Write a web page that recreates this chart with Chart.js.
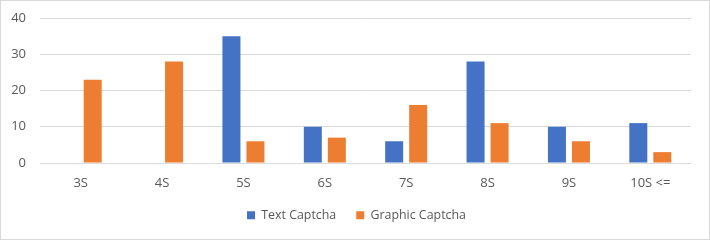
<!DOCTYPE html>
<html><head><meta charset="utf-8">
<script src="https://cdn.jsdelivr.net/npm/chart.js@4/dist/chart.umd.min.js"></script>
<style>html,body{margin:0;padding:0;background:#fff}#w{width:710px;height:240px;position:relative}</style>
</head><body><div id="w"><canvas id="c" width="710" height="240"></canvas></div>
<script>
const categories = ["3S","4S","5S","6S","7S","8S","9S","10S <="];
const textCaptcha = [0,0,35,10,6,28,10,11];
const graphicCaptcha = [23,28,6,7,16,11,6,3];
const yTicks = [0,10,20,30,40];

const FONT = "'Open Sans', sans-serif";
const border = {id:'border',
  afterLayout(ch){ if(ch.legend){ ch.legend.left += 11; ch.legend.right += 11; } },
  afterDraw(ch){const c=ch.ctx;c.save();c.strokeStyle='#d9d9d9';c.lineWidth=1;c.strokeRect(0.5,0.5,709,239);c.restore();}};

new Chart(document.getElementById('c'), {
  type:'bar',
  data:{labels:categories, datasets:[
    {label:'Text Captcha', data:textCaptcha, backgroundColor:'#4472C4', categoryPercentage:0.59, barPercentage:0.75},
    {label:'Graphic Captcha', data:graphicCaptcha, backgroundColor:'#ED7D31', categoryPercentage:0.59, barPercentage:0.75}
  ]},
  options:{
    responsive:false, animation:false,
    layout:{padding:{left:0,right:19,top:18,bottom:8.5}},
    plugins:{
      tooltip:{enabled:false},
      legend:{position:'bottom', labels:{boxWidth:8, boxHeight:8, padding:20, color:'#595959', font:{family:FONT,size:12.4}}}
    },
    scales:{
      x:{grid:{display:false, drawTicks:false}, border:{display:false},
         ticks:{color:'#595959', padding:12, font:{family:FONT,size:13}, maxRotation:0},
         afterFit(s){s.height=26.1;}},
      y:{min:0,max:40, grid:{color:'#d9d9d9', drawTicks:false}, border:{display:false},
         afterBuildTicks(s){s.ticks=yTicks.map(v=>({value:v}));},
         ticks:{color:'#595959', padding:14, font:{family:FONT,size:13}},
         afterFit(s){s.width=40; s.paddingTop=0; s.paddingBottom=0;}}
    }
  },
  plugins:[border]
});
</script></body></html>
